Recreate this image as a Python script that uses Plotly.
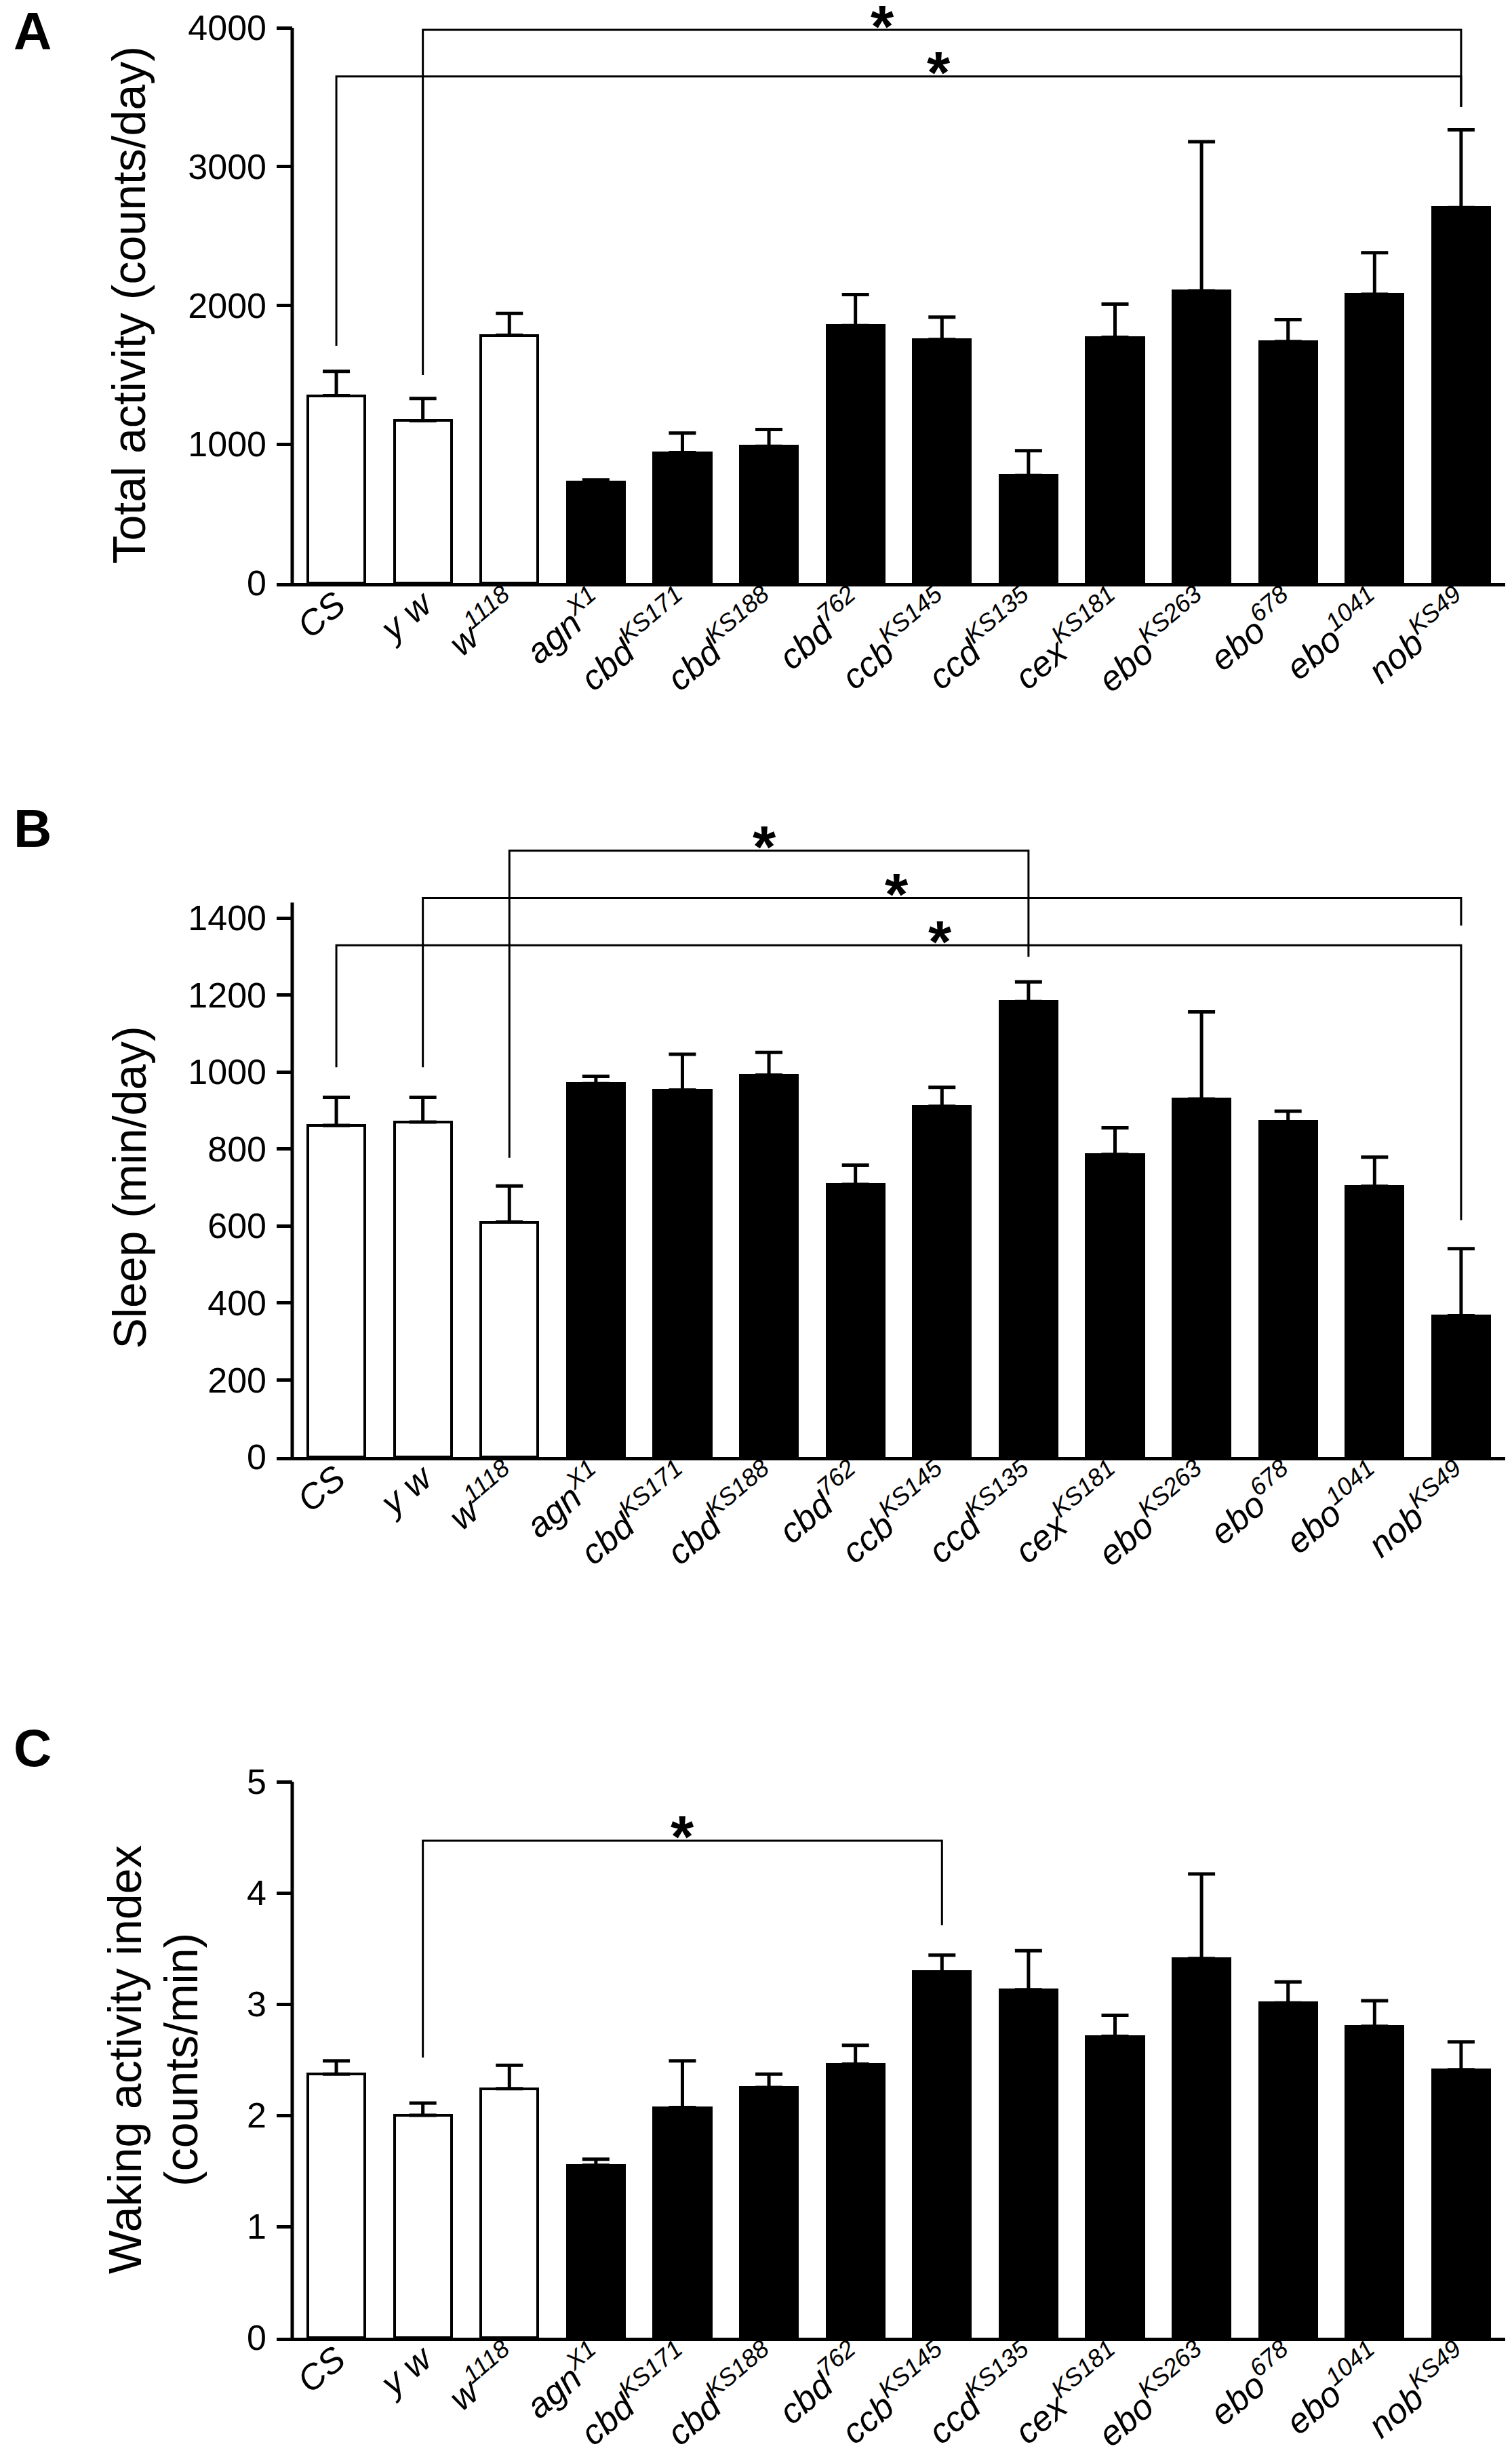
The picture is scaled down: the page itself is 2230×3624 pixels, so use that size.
import plotly.graph_objects as go

# the page body adds an 8 px margin at the top left, so the figure is shifted by it
OFF = 8
W, H = 2230 - OFF, 3624 - OFF
FONT = "Liberation Sans, Arial, Helvetica, sans-serif"

genotypes = ["CS", "y w", "w1118", "agnX1", "cbdKS171", "cbdKS188", "cbd762",
             "ccbKS145", "ccdKS135", "cexKS181", "eboKS263", "ebo678", "ebo1041", "nobKS49"]
genotype_labels = ["CS", "y w", "w<sup>1118</sup>", "agn<sup>X1</sup>", "cbd<sup>KS171</sup>",
                   "cbd<sup>KS188</sup>", "cbd<sup>762</sup>", "ccb<sup>KS145</sup>",
                   "ccd<sup>KS135</sup>", "cex<sup>KS181</sup>", "ebo<sup>KS263</sup>",
                   "ebo<sup>678</sup>", "ebo<sup>1041</sup>", "nob<sup>KS49</sup>"]
n_controls = 3  # CS, y w, w1118 drawn as open bars

activity = [1350, 1170, 1785, 730, 940, 985, 1855, 1755, 775, 1770, 2105, 1740, 2080, 2705]
activity_sem = [175, 160, 158, 13, 141, 121, 223, 161, 178, 240, 1075, 158, 300, 560]

sleep = [861, 870, 610, 970, 953, 992, 708, 911, 1183, 786, 930, 871, 703, 367]
sleep_sem = [73, 64, 94, 19, 93, 59, 50, 49, 51, 69, 226, 27, 76, 174]

waking = [2.37, 2.00, 2.24, 1.55, 2.07, 2.25, 2.46, 3.29, 3.13, 2.71, 3.41, 3.01, 2.80, 2.41]
waking_sem = [0.12, 0.11, 0.21, 0.055, 0.42, 0.12, 0.17, 0.15, 0.35, 0.19, 0.76, 0.19, 0.23, 0.25]

activity_ticks = [0, 1000, 2000, 3000, 4000]
sleep_ticks = [0, 200, 400, 600, 800, 1000, 1200, 1400]
waking_ticks = [0, 1, 2, 3, 4, 5]

# significance brackets: (left, right, bracket level, left leg end, right leg end, star x)
activity_brackets = [("y w", "nobKS49", 3985, 1500, 3430, 6.31),
                     ("CS", "nobKS49", 3650, 1710, 3430, 6.96)]
sleep_brackets = [("w1118", "ccdKS135", 1575, 777, 1299, 4.95),
                  ("y w", "nobKS49", 1452, 1012, 1380, 6.48),
                  ("CS", "nobKS49", 1329, 1012, 615, 6.98)]
waking_brackets = [("y w", "ccbKS145", 4.47, 2.52, 3.71, 4.0)]

# pixel layout measured on the 2230 x 3624 page
panels = [
    dict(letter="A", y=activity, err=activity_sem, ticks=activity_ticks,
         title=[("Total activity (counts/day)", 189)], brackets=activity_brackets,
         bottom=860, px_per_unit=819 / 4000, top=OFF, axis_top=4000, letter_y=46),
    dict(letter="B", y=sleep, err=sleep_sem, ticks=sleep_ticks,
         title=[("Sleep (min/day)", 190)], brackets=sleep_brackets,
         bottom=2149, px_per_unit=795 / 1400, top=1184, axis_top=1440, letter_y=1222),
    dict(letter="C", y=waking, err=waking_sem, ticks=waking_ticks,
         title=[("Waking activity index", 184), ("(counts/min)", 267)],
         brackets=waking_brackets,
         bottom=3448, px_per_unit=820 / 5, top=2612, axis_top=5, letter_y=2578),
]

xs = list(range(len(genotypes)))
bar_colors = ["white"] * n_controls + ["black"] * (len(genotypes) - n_controls)

fig = go.Figure()
x_left, x_axis, x_right = 408, 431, 2220
x_dom = [(x_left - OFF) / W, (x_right - OFF) / W]
x_rng = [-0.69, len(genotypes) - 0.49]
axis_frac = (x_axis - x_left) / (x_right - x_left)

for k, p in enumerate(panels):
    sfx = "" if k == 0 else str(k + 1)
    xa, ya = "x" + sfx, "y" + sfx
    ymax = (p["bottom"] - p["top"]) / p["px_per_unit"]

    fig.add_trace(go.Bar(
        x=xs, y=p["y"], width=0.66, xaxis=xa, yaxis=ya,
        marker=dict(color=bar_colors, line=dict(color="black", width=4)),
        error_y=dict(type="data", array=p["err"], arrayminus=[0] * len(xs),
                     symmetric=False, thickness=5, width=20, color="black"),
        hoverinfo="skip", showlegend=False,
    ))

    for left, right, level, leg_l, leg_r, star_x in p["brackets"]:
        i0, i1 = genotypes.index(left), genotypes.index(right)
        fig.add_trace(go.Scatter(
            x=[i0, i0, i1, i1], y=[leg_l, level, level, leg_r], mode="lines",
            line=dict(color="black", width=3), xaxis=xa, yaxis=ya,
            hoverinfo="skip", showlegend=False,
        ))
        fig.add_annotation(x=star_x, y=level, xref=xa, yref=ya, text="<b>*</b>",
                           showarrow=False, xanchor="center", yanchor="middle", yshift=6,
                           font=dict(size=88, family=FONT, color="black"))

    # y axis line only up to the last tick
    fig.add_shape(type="line", xref=xa + " domain", yref=ya, x0=axis_frac, x1=axis_frac,
                  y0=0, y1=p["axis_top"], line=dict(color="black", width=5))

    for text, tx in p["title"]:
        fig.add_annotation(x=(tx - OFF) / W, y=p["ticks"][-1] / 2, xref="paper", yref=ya,
                           text=text, textangle=-90, showarrow=False,
                           xanchor="center", yanchor="middle",
                           font=dict(size=68, family=FONT, color="black"))
    fig.add_annotation(x=(18 - OFF) / W, y=1 - (p["letter_y"] - OFF) / H,
                       xref="paper", yref="paper",
                       text="<b>" + p["letter"] + "</b>", showarrow=False,
                       xanchor="left", yanchor="middle",
                       font=dict(size=78, family=FONT, color="black"))

    fig.update_layout(**{
        "xaxis" + sfx: dict(domain=x_dom, range=x_rng, anchor=ya, automargin=False,
                            tickvals=xs, ticktext=genotype_labels, tickangle=-40,
                            ticks="", showline=True, linecolor="black", linewidth=5,
                            showgrid=False, zeroline=False, ticklabelstandoff=-24,
                            tickfont=dict(size=52, family=FONT, color="black", style="italic")),
        "yaxis" + sfx: dict(domain=[1 - (p["bottom"] - OFF) / H, 1 - (p["top"] - OFF) / H],
                            range=[0, ymax], anchor=xa, automargin=False,
                            tickvals=p["ticks"],
                            ticks="inside", ticklen=23, tickwidth=5, tickcolor="black",
                            showline=False, showgrid=False, zeroline=False,
                            ticklabelstandoff=14,
                            tickfont=dict(size=52, family=FONT, color="black")),
    })

fig.update_layout(width=W, height=H, margin=dict(l=0, r=0, t=0, b=0, autoexpand=False),
                  paper_bgcolor="white", plot_bgcolor="white", bargap=0)

fig.write_html("out.html")
